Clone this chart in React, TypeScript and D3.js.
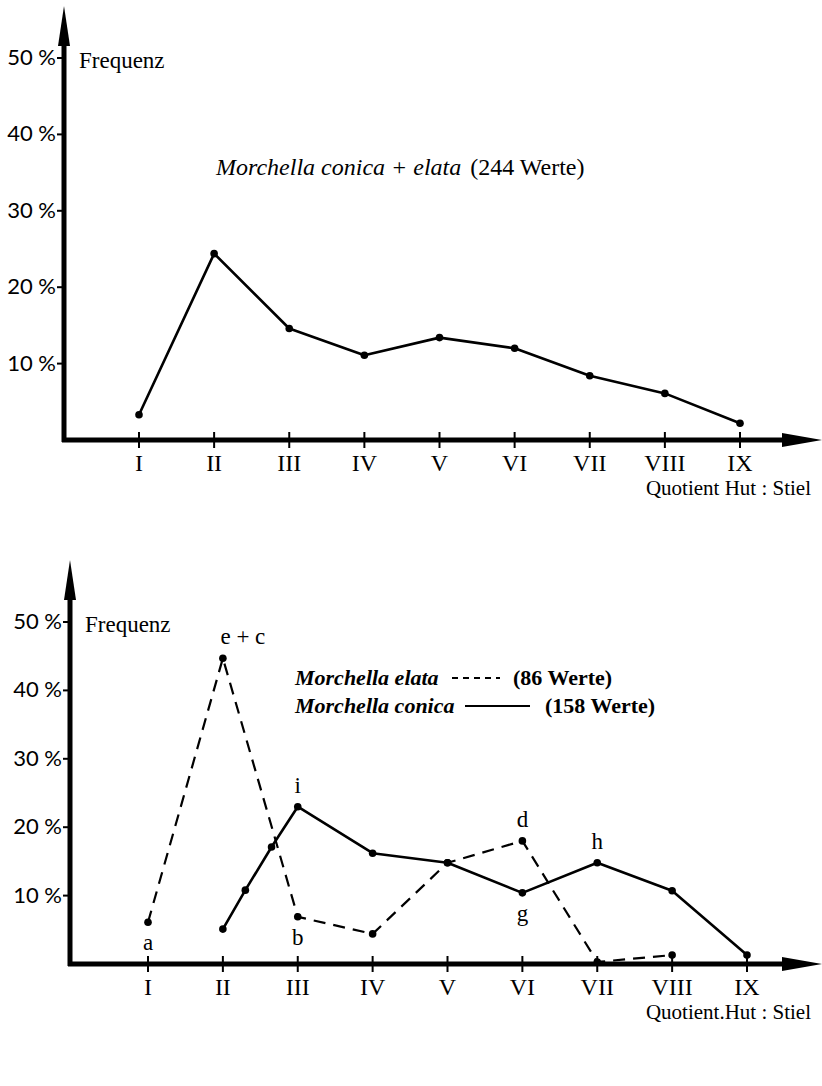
import React from 'react';
import { scaleLinear, line } from 'd3';

// classes of the ratio cap : stem
const classes = ['I', 'II', 'III', 'IV', 'V', 'VI', 'VII', 'VIII', 'IX'];
const classPos = [1, 2, 3, 4, 5, 6, 7, 8, 9];
const yTicks = [10, 20, 30, 40, 50];

// top: Morchella conica + elata (244 Werte)
const totalX = [1, 2, 3, 4, 5, 6, 7, 8, 9];
const totalY = [3.3, 24.4, 14.6, 11.1, 13.4, 12.0, 8.4, 6.1, 2.2];

// bottom: Morchella elata (dashed)
const elataX = [1, 2, 3, 4, 5, 6, 7, 8];
const elataY = [6.1, 44.7, 6.9, 4.4, 14.8, 18.0, 0.3, 1.3];
const elataLabels = ['a', 'e + c', 'b', '', '', 'd', '', ''];

// bottom: Morchella conica (solid), two extra readings between II and III
const conicaX = [2, 2.3, 2.65, 3, 4, 5, 6, 7, 8, 9];
const conicaY = [5.1, 10.8, 17.1, 23.0, 16.2, 14.8, 10.4, 14.8, 10.7, 1.3];
const conicaLabels = ['', '', '', 'i', '', '', 'g', 'h', '', ''];

const serif = '"Liberation Serif", "DejaVu Serif", serif';
const sans = 'Lato, "DejaVu Sans", sans-serif';

type Cfg = {
  axisX: number; axisY: number; topY: number; y50: number;
  x1: number; x9: number; right: number;
};

function Axes({ c, xLabel }: { c: Cfg; xLabel: string }) {
  const x = scaleLinear().domain([1, 9]).range([c.x1, c.x9]);
  const y = scaleLinear().domain([0, 50]).range([c.axisY, c.y50]);
  return (
    <g>
      {/* y axis with arrow */}
      <line x1={c.axisX} x2={c.axisX} y1={c.axisY + 2} y2={c.topY + 30} stroke="#000" strokeWidth={5} />
      <path d={`M${c.axisX},${c.topY} L${c.axisX - 6},${c.topY + 40} L${c.axisX + 6},${c.topY + 40} Z`} fill="#000" />
      {/* x axis with arrow */}
      <line x1={c.axisX - 2} x2={c.right - 30} y1={c.axisY} y2={c.axisY} stroke="#000" strokeWidth={5} />
      <path d={`M${c.right},${c.axisY} L${c.right - 40},${c.axisY - 7} L${c.right - 40},${c.axisY + 7} Z`} fill="#000" />
      {yTicks.map(t => (
        <g key={t}>
          <line x1={c.axisX - 7} x2={c.axisX} y1={y(t)} y2={y(t)} stroke="#000" strokeWidth={2} />
          <text x={c.axisX - 8} y={y(t) + 7} textAnchor="end" fontFamily={sans} fontSize={22}>{t} %</text>
        </g>
      ))}
      <text x={c.axisX + 15} y={y(50) + 10} fontFamily={serif} fontSize={23}>Frequenz</text>
      {classes.map((k, i) => (
        <g key={k}>
          <line x1={x(classPos[i])} x2={x(classPos[i])} y1={c.axisY - 8} y2={c.axisY + 8} stroke="#000" strokeWidth={2} />
          <text x={x(classPos[i])} y={c.axisY + 31} textAnchor="middle" fontFamily={serif} fontSize={24}>{k}</text>
        </g>
      ))}
      <text x={811} y={c.axisY + 55} textAnchor="end" fontFamily={serif} fontSize={21}>{xLabel}</text>
    </g>
  );
}

function Series({ c, xs, ys, dashed, labels }: { c: Cfg; xs: number[]; ys: number[]; dashed?: boolean; labels?: string[] }) {
  const x = scaleLinear().domain([1, 9]).range([c.x1, c.x9]);
  const y = scaleLinear().domain([0, 50]).range([c.axisY, c.y50]);
  const pts: [number, number][] = xs.map((v, i) => [x(v), y(ys[i])]);
  const d = line()(pts) || '';
  return (
    <g>
      <path d={d} fill="none" stroke="#000" strokeWidth={dashed ? 2.2 : 2.6} strokeDasharray={dashed ? '12,8' : undefined} strokeLinejoin="round" />
      {pts.map((p, i) => <circle key={i} cx={p[0]} cy={p[1]} r={3.8} fill="#000" />)}
      {labels && labels.map((l, i) => {
        if (!l) return null;
        const above = ['e + c', 'i', 'd', 'h'].includes(l);
        return (
          <text key={i} x={pts[i][0] + (l === 'e + c' ? 20 : 0)} y={above ? pts[i][1] - 14 : pts[i][1] + 28}
            textAnchor="middle" fontFamily={serif} fontSize={23}>{l}</text>
        );
      })}
    </g>
  );
}

export default function App() {
  const top: Cfg = { axisX: 64, axisY: 440, topY: 6, y50: 58, x1: 139, x9: 740, right: 822 };
  const bot: Cfg = { axisX: 70, axisY: 964, topY: 560, y50: 622, x1: 148, x9: 747, right: 822 };
  return (
    <svg width={822} height={1086} style={{ position: 'absolute', left: 0, top: 0, background: '#fff' }}>
      <rect width={822} height={1086} fill="#fff" />
      <Axes c={top} xLabel="Quotient Hut : Stiel" />
      <text x={216} y={175} fontFamily={serif} fontSize={24}>
        <tspan fontStyle="italic">Morchella conica + elata</tspan>
        <tspan dx={9}>(244 Werte)</tspan>
      </text>
      <Series c={top} xs={totalX} ys={totalY} />

      <Axes c={bot} xLabel="Quotient.Hut : Stiel" />
      <Series c={bot} xs={elataX} ys={elataY} dashed labels={elataLabels} />
      <Series c={bot} xs={conicaX} ys={conicaY} labels={conicaLabels} />
      {/* legend */}
      <g fontFamily={serif} fontSize={22} fontWeight="bold">
        <text x={295} y={685} fontStyle="italic">Morchella elata</text>
        <line x1={452} x2={500} y1={678} y2={678} stroke="#000" strokeWidth={2} strokeDasharray="6,5" />
        <text x={513} y={685}>(86 Werte)</text>
        <text x={295} y={713} fontStyle="italic">Morchella conica</text>
        <line x1={465} x2={530} y1={706} y2={706} stroke="#000" strokeWidth={2} />
        <text x={545} y={713}>(158 Werte)</text>
      </g>
    </svg>
  );
}
